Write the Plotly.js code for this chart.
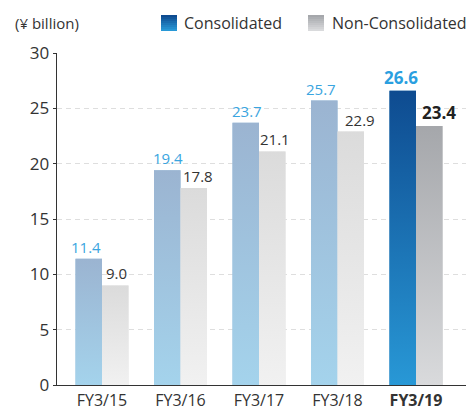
<!DOCTYPE html>
<html><head><meta charset="utf-8">
<script src="https://cdn.plot.ly/plotly-3.0.1.min.js"></script>
<style>html,body{margin:0;padding:0;background:#fff}#chart{width:466px;height:409px}</style>
</head><body><div id="chart"></div>
<script>
const categories = ['FY3/15','FY3/16','FY3/17','FY3/18','FY3/19'];
const tickLabels = ['FY3/15','FY3/16','FY3/17','FY3/18','<b>FY3/19</b>'];
const consolidated = [11.4, 19.4, 23.7, 25.7, 26.6];
const nonConsolidated = [9.0, 17.8, 21.1, 22.9, 23.4];

// label nudges in px (style only)
const consLabelShift = [-3, 1, 1, -3, -2];
const nonLabelShift = [1, 4, 3, 9, 10];

const W = 0.3376;
const FONT = 'Open Sans, Segoe UI, sans-serif';
const idx = categories.map((c,i)=>i);
const last = categories.length - 1;

// gradient colours [bottom, top]
const consGrad = [['#a4d3ec','#9bb4d1'], ['#2898d6','#0e4b90']];
const nonGrad = [['#f1f1f1','#dbdbdb'], ['#d9dadc','#a5a7ab']];

function mid(a,b){
  const p=h=>[1,3,5].map(k=>parseInt(h.substr(k,2),16));
  const x=p(a),y=p(b);return 'rgb('+x.map((v,i)=>Math.round((v+y[i])/2)).join(',')+')';
}

const traces = [
  {type:'bar', x: idx, y: consolidated, width: W, offset: -W, name:'Consolidated',
   marker:{color: idx.map(i=>{const g=consGrad[i===last?1:0];return mid(g[0],g[1]);})},
   showlegend:false, hoverinfo:'x+y'},
  {type:'bar', x: idx, y: nonConsolidated, width: W, offset: 0, name:'Non-Consolidated',
   marker:{color: idx.map(i=>{const g=nonGrad[i===last?1:0];return mid(g[0],g[1]);})},
   showlegend:false, hoverinfo:'x+y'}
];

// gradient overlays for each bar, built from the data
function gradBar(i, v, off, grad){
  const x0 = i + off, x1 = i + off + W;
  return {type:'scatter', mode:'lines', x:[x0,x0,x1,x1,x0], y:[0,v,v,0,0],
    fill:'toself', line:{width:0}, hoverinfo:'skip', showlegend:false,
    fillgradient:{type:'vertical', colorscale:[[0,grad[0]],[1,grad[1]]]}};
}
idx.forEach(i=>{
  traces.push(gradBar(i, consolidated[i], -W, consGrad[i===last?1:0]));
  traces.push(gradBar(i, nonConsolidated[i], 0, nonGrad[i===last?1:0]));
});

// layout helpers (pixel -> paper)
const L=57, R=466, T=53, B=385;
const px = p => (p-L)/(R-L);
const py = p => (B-p)/(B-T);

const shapes = [];
function legendSquare(x0, grad){
  const n=8, top=15, h=16;
  for(let k=0;k<n;k++){
    const t=k/(n-1);
    const a=grad[1], b=grad[0];
    const p=hh=>[1,3,5].map(q=>parseInt(hh.substr(q,2),16));
    const A=p(a), Bc=p(b);
    const c='rgb('+A.map((v,j)=>Math.round(v+(Bc[j]-v)*t)).join(',')+')';
    shapes.push({type:'rect', xref:'paper', yref:'paper', x0:px(x0), x1:px(x0+16),
      y0:py(top+(k+1)*h/n), y1:py(top+k*h/n), fillcolor:c, line:{width:0}, layer:'above'});
  }
}
legendSquare(161, consGrad[1]);
legendSquare(308, nonGrad[1]);

const annotations = [
  {text:'(¥ billion)', xref:'paper', yref:'paper', x:px(13), y:py(23), xanchor:'left', yanchor:'middle', showarrow:false, font:{family:FONT, size:15, color:'#333'}},
  {text:'Consolidated', xref:'paper', yref:'paper', x:px(182), y:py(23), xanchor:'left', yanchor:'middle', showarrow:false, font:{family:FONT, size:16, color:'#333'}},
  {text:'Non-Consolidated', xref:'paper', yref:'paper', x:px(330), y:py(23), xanchor:'left', yanchor:'middle', showarrow:false, font:{family:FONT, size:16, color:'#333'}}
];
idx.forEach(i=>{
  const hl = i===last;
  annotations.push({text: consolidated[i].toFixed(1), x: i - W/2, y: consolidated[i], xref:'x', yref:'y',
    xanchor:'center', yanchor:'bottom', yshift:0, xshift: consLabelShift[i], showarrow:false,
    font:{family:FONT, size: hl?17:15, color: hl?'#2a9fe0':'#3aa5e0', weight: hl?700:400}});
  annotations.push({text: nonConsolidated[i].toFixed(1), x: i + W/2, y: nonConsolidated[i], xref:'x', yref:'y',
    xanchor:'center', yanchor:'bottom', yshift:0, xshift: nonLabelShift[i], showarrow:false,
    font:{family:FONT, size: hl?17:15, color: hl?'#222':'#333', weight: hl?700:400}});
});

const layout = {
  width:466, height:409,
  margin:{l:L, r:466-R, t:T, b:409-B, pad:0},
  paper_bgcolor:'#fff', plot_bgcolor:'#fff',
  barmode:'overlay', showlegend:false,
  font:{family:FONT, color:'#333'},
  xaxis:{range:[(L-102)/78.5, (R-102)/78.5], tickvals: idx, ticktext: tickLabels,
    showgrid:false, zeroline:false, showline:true, linecolor:'#333', linewidth:1.3,
    ticks:'', tickfont:{family:FONT, size:16, color:'#333'}, ticklabelstandoff:0, fixedrange:true},
  yaxis:{range:[0,30], dtick:5, tick0:0, showgrid:true, gridcolor:'#dedede', griddash:'5px,4px', gridwidth:1,
    zeroline:false, showline:true, linecolor:'#333', linewidth:1.3, ticks:'outside', ticklen:3, tickcolor:'#333',
    tickfont:{family:FONT, size:17, color:'#333'}, fixedrange:true},
  shapes, annotations
};

Plotly.newPlot('chart', traces, layout, {displayModeBar:false, staticPlot:true});
</script></body></html>
